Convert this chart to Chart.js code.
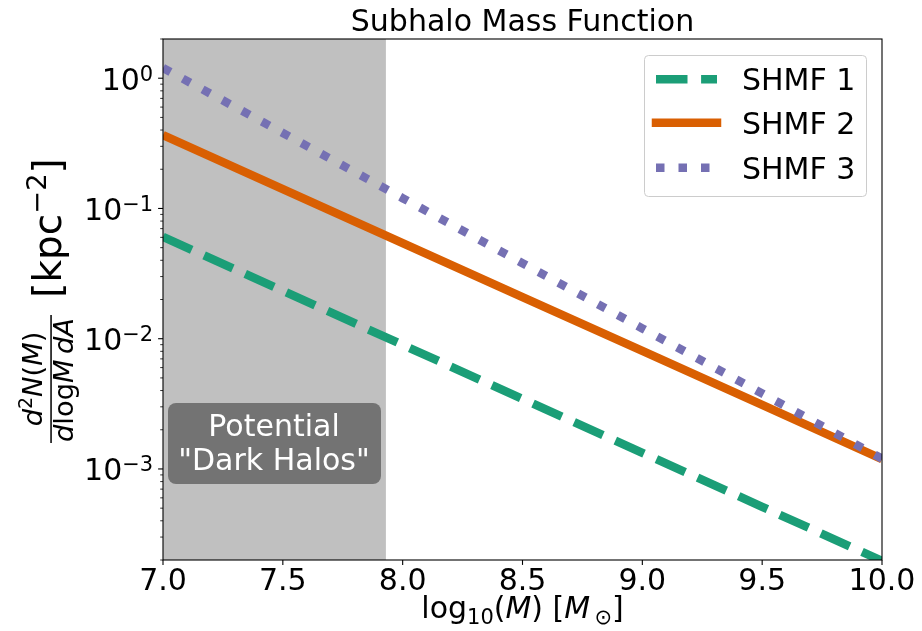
<!DOCTYPE html>
<html><head><meta charset="utf-8">
<script src="https://cdn.jsdelivr.net/npm/chart.js@4.4.1/dist/chart.umd.min.js"></script>
<style>html,body{margin:0;padding:0;background:#fff;}canvas{display:block;}</style>
</head><body>
<canvas id="c" width="922" height="631"></canvas>
<script>
// ---- data ----
const massLog = [7.0, 7.5, 8.0, 8.5, 9.0, 9.5, 10.0];
const shmf1 = [0.0605, 0.0233, 0.00897, 0.00345, 0.00133, 0.000512, 0.000197];
const shmf2 = [0.366, 0.141, 0.0543, 0.0209, 0.00805, 0.00310, 0.00119];
const shmf3 = [1.2, 0.38, 0.12, 0.038, 0.012, 0.0038, 0.0012];
const seriesNames = ['SHMF 1', 'SHMF 2', 'SHMF 3'];
const xTickValues = [7.0, 7.5, 8.0, 8.5, 9.0, 9.5, 10.0];
const xTickLabels = ['7.0', '7.5', '8.0', '8.5', '9.0', '9.5', '10.0'];
const yTickValues = [1, 0.1, 0.01, 0.001];
const yTickExponents = ['0', '\u22121', '\u22122', '\u22123'];
const darkRegion = [7.0, 7.93];
const annotationLines = ['Potential', '"Dark Halos"'];
const chartTitle = 'Subhalo Mass Function';

const FAM = '"DejaVu Sans", sans-serif';
const fnt = (s, it) => (it ? 'italic ' : '') + s + 'px ' + FAM;
const COLORS = ['#1b9e77', '#d95f02', '#7570b3'];
const LW = 8.5;
const DASHES = [[31.5, 13.6], [], [8.5, 14]];

function drawRuns(ctx, runs, x, y, align) {
  let w = 0;
  runs.forEach(r => { ctx.font = fnt(r[1], r[2]); r.w = ctx.measureText(r[0]).width; w += r.w; });
  let cx = align === 'center' ? x - w / 2 : (align === 'right' ? x - w : x);
  ctx.textAlign = 'left';
  ctx.textBaseline = 'alphabetic';
  runs.forEach(r => { ctx.font = fnt(r[1], r[2]); ctx.fillText(r[0], cx, y + (r[3] || 0)); cx += r.w; });
  return w;
}
function rrect(ctx, x, y, w, h, r) {
  ctx.beginPath();
  ctx.moveTo(x + r, y); ctx.lineTo(x + w - r, y); ctx.arcTo(x + w, y, x + w, y + r, r);
  ctx.lineTo(x + w, y + h - r); ctx.arcTo(x + w, y + h, x + w - r, y + h, r);
  ctx.lineTo(x + r, y + h); ctx.arcTo(x, y + h, x, y + h - r, r);
  ctx.lineTo(x, y + r); ctx.arcTo(x, y, x + r, y, r); ctx.closePath();
}

const decor = {
  id: 'decor',
  beforeDatasetsDraw(chart) {
    const { ctx, chartArea: a, scales: { x } } = chart;
    ctx.save();
    ctx.fillStyle = '#c0c0c0';
    const x0 = x.getPixelForValue(darkRegion[0]), x1 = x.getPixelForValue(darkRegion[1]);
    ctx.fillRect(x0, a.top, x1 - x0, a.bottom - a.top);
    ctx.restore();
  },
  afterDraw(chart) {
    const { ctx, chartArea: a, scales: { x, y } } = chart;
    ctx.save();
    // annotation box
    ctx.fillStyle = '#737373';
    rrect(ctx, 168, 403, 213, 81, 8); ctx.fill();
    ctx.fillStyle = '#ffffff';
    ctx.font = fnt(30); ctx.textAlign = 'center'; ctx.textBaseline = 'alphabetic';
    ctx.fillText(annotationLines[0], 274, 436);
    ctx.fillText(annotationLines[1], 274, 470);

    // spines
    ctx.strokeStyle = '#000'; ctx.lineWidth = 1.1;
    ctx.strokeRect(a.left, a.top, a.right - a.left, a.bottom - a.top);

    // x ticks
    ctx.fillStyle = '#000';
    ctx.lineWidth = 1.1;
    xTickValues.forEach((v, i) => {
      const px = x.getPixelForValue(v);
      ctx.beginPath(); ctx.moveTo(px, a.bottom); ctx.lineTo(px, a.bottom + 4.9); ctx.stroke();
      ctx.font = fnt(30); ctx.textAlign = 'center'; ctx.textBaseline = 'alphabetic';
      ctx.fillText(xTickLabels[i], px, 590);
    });
    // y ticks: minor
    ctx.lineWidth = 0.8;
    for (let e = -4; e <= 0; e++) {
      for (let m = 2; m <= 9; m++) {
        const v = m * Math.pow(10, e);
        if (v < y.min * 0.999 || v > y.max * 1.001) continue;
        const py = y.getPixelForValue(v);
        ctx.beginPath(); ctx.moveTo(a.left, py); ctx.lineTo(a.left - 2.8, py); ctx.stroke();
      }
    }
    // y ticks: major
    ctx.lineWidth = 1.1;
    yTickValues.forEach((v, i) => {
      const py = y.getPixelForValue(v);
      ctx.beginPath(); ctx.moveTo(a.left, py); ctx.lineTo(a.left - 4.9, py); ctx.stroke();
      drawRuns(ctx, [['10', 30], [yTickExponents[i], 21, false, -9]], a.left - 9.8, py + 11.5, 'right');
    });

    // title
    ctx.font = fnt(30); ctx.textAlign = 'center'; ctx.textBaseline = 'alphabetic';
    ctx.fillText(chartTitle, (a.left + a.right) / 2, 31);

    // x label
    drawRuns(ctx, [['log', 30], ['10', 21, false, 6], ['(', 30], ['M', 30, true], [')', 30],
                   [' [', 30], ['M', 30, true], ['\u2009', 21], ['\u2299', 21, false, 6], [']', 30]],
             (a.left + a.right) / 2, 618, 'center');

    // y label (rotated)
    ctx.save();
    ctx.translate(61, 228); ctx.rotate(-Math.PI / 2);
    drawRuns(ctx, [['[kpc', 39], ['\u22122', 27.3, false, -15], [']', 39]], 0, 0, 'center');
    ctx.restore();
    ctx.save();
    ctx.translate(42, 379); ctx.rotate(-Math.PI / 2);
    drawRuns(ctx, [['d', 27.3, true], ['2', 19, false, -10], ['N', 27.3, true], ['(', 27.3], ['M', 27.3, true], [')', 27.3]], 0, 0, 'center');
    ctx.restore();
    ctx.save();
    ctx.translate(73, 380); ctx.rotate(-Math.PI / 2);
    drawRuns(ctx, [['d', 27.3, true], ['log', 27.3], ['M', 27.3, true], ['\u2009', 27.3], ['d', 27.3, true], ['A', 27.3, true]], 0, 0, 'center');
    ctx.restore();
    ctx.fillStyle = '#000';
    ctx.fillRect(50.3, 315, 1.5, 128);

    // legend
    ctx.fillStyle = 'rgba(255,255,255,0.8)';
    ctx.strokeStyle = '#cccccc'; ctx.lineWidth = 1;
    rrect(ctx, 644.5, 55.5, 222, 141, 4); ctx.fill(); ctx.stroke();
    const ly = [79.3, 122.7, 167.7];
    seriesNames.forEach((n, i) => {
      ctx.save();
      ctx.strokeStyle = COLORS[i]; ctx.lineWidth = LW;
      ctx.setLineDash(DASHES[i]);
      ctx.lineCap = i === 1 ? 'square' : 'butt';
      ctx.beginPath(); ctx.moveTo(656, ly[i]); ctx.lineTo(717, ly[i]); ctx.stroke();
      ctx.restore();
      ctx.fillStyle = '#000'; ctx.font = fnt(30); ctx.textAlign = 'left'; ctx.textBaseline = 'alphabetic';
      ctx.fillText(n, 742, ly[i] + 11);
    });
    ctx.restore();
  }
};

const mk = (arr) => massLog.map((m, i) => ({ x: m, y: arr[i] }));
new Chart(document.getElementById('c'), {
  type: 'line',
  data: {
    datasets: [shmf1, shmf2, shmf3].map((arr, i) => ({
      label: seriesNames[i],
      data: mk(arr),
      borderColor: COLORS[i],
      backgroundColor: COLORS[i],
      borderWidth: LW,
      borderDash: DASHES[i],
      borderCapStyle: 'butt',
      pointRadius: 0,
      tension: 0,
      fill: false,
      clip: 0,
      order: 3 - i
    }))
  },
  options: {
    responsive: false,
    animation: false,
    devicePixelRatio: 1,
    layout: { padding: { top: 39, right: 40, left: 0, bottom: 0 } },
    plugins: { legend: { display: false }, tooltip: { enabled: false }, title: { display: false } },
    scales: {
      x: {
        type: 'linear', min: 7, max: 10,
        ticks: { display: false, stepSize: 0.5 },
        grid: { display: false }, border: { display: false },
        afterFit(s) { s.height = 71; }
      },
      y: {
        type: 'logarithmic', min: 2e-4, max: 2,
        ticks: { display: false },
        grid: { display: false }, border: { display: false },
        afterFit(s) { s.width = 163; }
      }
    }
  },
  plugins: [decor]
});
</script>
</body></html>
